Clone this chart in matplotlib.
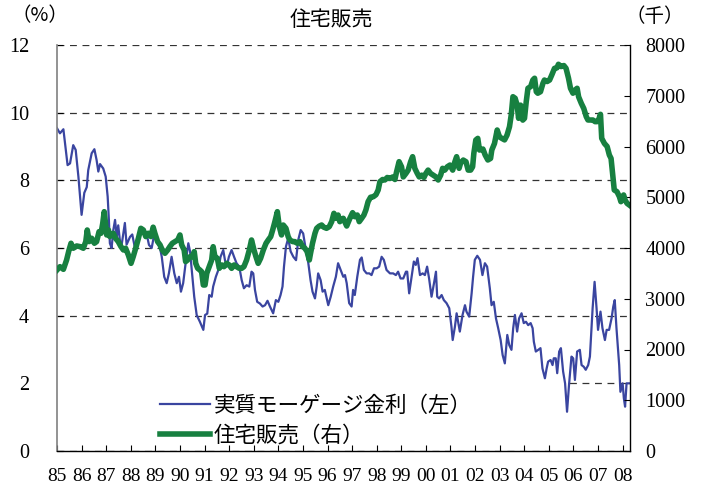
import matplotlib
matplotlib.use("Agg")
import matplotlib.pyplot as plt
from matplotlib.patches import Rectangle
import numpy as np

plt.rcParams['font.family'] = ['Liberation Serif', 'Noto Sans CJK JP']

rate_t = [1985.00, 1985.12, 1985.26, 1985.43, 1985.53, 1985.66, 1985.76, 1985.87, 1986.00, 1986.11,
          1986.21, 1986.27, 1986.41, 1986.52, 1986.61, 1986.68, 1986.75, 1986.88, 1986.98, 1987.06,
          1987.11, 1987.15, 1987.22, 1987.29, 1987.36, 1987.43, 1987.49, 1987.56, 1987.63, 1987.76,
          1987.83, 1987.97, 1988.06, 1988.17, 1988.30, 1988.41, 1988.55, 1988.65, 1988.74, 1988.85,
          1988.96, 1989.05, 1989.19, 1989.26, 1989.36, 1989.46, 1989.55, 1989.66, 1989.77, 1989.87,
          1989.96, 1990.04, 1990.13, 1990.23, 1990.34, 1990.41, 1990.48, 1990.58, 1990.68, 1990.81,
          1990.95, 1991.02, 1991.11, 1991.19, 1991.29, 1991.35, 1991.46, 1991.56, 1991.65, 1991.76,
          1991.83, 1991.90, 1991.99, 1992.10, 1992.20, 1992.30, 1992.41, 1992.51, 1992.60, 1992.71,
          1992.82, 1992.91, 1992.98, 1993.05, 1993.14, 1993.25, 1993.36, 1993.46, 1993.56, 1993.66,
          1993.79, 1993.90, 1994.00, 1994.09, 1994.17, 1994.23, 1994.31, 1994.40, 1994.50, 1994.61,
          1994.72, 1994.81, 1994.91, 1995.01, 1995.12, 1995.22, 1995.31, 1995.39, 1995.49, 1995.56,
          1995.62, 1995.72, 1995.80, 1995.89, 1996.03, 1996.13, 1996.23, 1996.34, 1996.43, 1996.64,
          1996.71, 1996.78, 1996.88, 1996.98, 1997.04, 1997.11, 1997.21, 1997.32, 1997.39, 1997.48,
          1997.59, 1997.70, 1997.79, 1997.89, 1998.00, 1998.10, 1998.20, 1998.29, 1998.40, 1998.54,
          1998.67, 1998.78, 1998.87, 1998.97, 1999.08, 1999.19, 1999.24, 1999.32, 1999.42, 1999.51,
          1999.59, 1999.66, 1999.76, 1999.87, 1999.96, 2000.05, 2000.13, 2000.23, 2000.33, 2000.41,
          2000.46, 2000.54, 2000.64, 2000.73, 2000.84, 2000.95, 2001.04, 2001.09, 2001.18, 2001.25,
          2001.31, 2001.38, 2001.49, 2001.59, 2001.65, 2001.76, 2001.86, 2001.92, 2001.99, 2002.09,
          2002.20, 2002.30, 2002.40, 2002.49, 2002.60, 2002.67, 2002.76, 2002.85, 2002.94, 2003.04,
          2003.12, 2003.21, 2003.31, 2003.39, 2003.48, 2003.55, 2003.62, 2003.71, 2003.79, 2003.89,
          2003.98, 2004.07, 2004.16, 2004.26, 2004.34, 2004.39, 2004.47, 2004.57, 2004.66, 2004.74,
          2004.84, 2004.91, 2004.97, 2005.07, 2005.15, 2005.20, 2005.28, 2005.34, 2005.42, 2005.49,
          2005.58, 2005.66, 2005.74, 2005.82, 2005.92, 2005.99, 2006.06, 2006.15, 2006.26, 2006.33,
          2006.42, 2006.50, 2006.60, 2006.67, 2006.78, 2006.86, 2006.94, 2007.00, 2007.10, 2007.18,
          2007.28, 2007.35, 2007.45, 2007.55, 2007.62, 2007.68, 2007.75, 2007.86, 2007.91, 2008.00,
          2008.05, 2008.10, 2008.16, 2008.26]
rate_v = [9.54, 9.39, 9.51, 8.45, 8.50, 9.04, 8.90, 8.11, 6.98, 7.63,
          7.80, 8.30, 8.80, 8.92, 8.60, 8.26, 8.48, 8.35, 8.11, 7.52,
          6.83, 6.14, 6.00, 6.53, 6.83, 6.33, 6.67, 6.20, 6.10, 6.74,
          6.10, 6.33, 6.40, 6.00, 6.33, 6.59, 6.53, 6.40, 6.09, 6.00,
          6.43, 6.20, 6.00, 5.74, 5.15, 4.96, 5.25, 5.74, 5.25, 4.96,
          5.15, 4.71, 4.96, 5.55, 6.14, 5.90, 5.35, 4.56, 4.02, 3.82,
          3.58, 4.02, 4.06, 4.61, 4.56, 4.86, 5.15, 5.35, 5.74, 5.94,
          5.64, 5.45, 5.74, 5.94, 5.74, 5.55, 5.45, 5.05, 4.81, 4.90,
          4.86, 5.30, 5.25, 4.76, 4.41, 4.36, 4.27, 4.31, 4.44, 4.27,
          4.07, 4.46, 4.41, 4.61, 4.86, 5.45, 6.04, 6.29, 5.90, 5.74,
          5.64, 6.24, 6.53, 6.43, 5.94, 5.55, 5.05, 4.71, 4.51, 4.86,
          5.25, 5.05, 4.71, 4.76, 4.31, 4.56, 4.86, 5.15, 5.55, 5.15,
          5.20, 4.96, 4.37, 4.27, 4.76, 4.61, 5.15, 5.65, 5.72, 5.35,
          5.25, 5.25, 5.20, 5.40, 5.40, 5.45, 5.74, 5.65, 5.35, 5.25,
          5.25, 5.20, 5.30, 5.10, 5.10, 5.30, 5.30, 4.66, 5.15, 5.60,
          5.50, 5.70, 5.20, 5.25, 5.20, 5.45, 5.10, 4.56, 4.96, 5.30,
          4.56, 4.51, 4.61, 4.46, 4.37, 4.22, 3.67, 3.28, 3.67, 4.07,
          3.82, 3.53, 4.02, 4.31, 4.12, 3.97, 4.66, 5.15, 5.65, 5.77,
          5.65, 5.20, 5.55, 5.45, 4.81, 4.31, 4.41, 3.92, 3.63, 3.28,
          2.84, 2.59, 3.43, 3.13, 2.99, 3.63, 4.02, 3.53, 3.92, 4.07,
          3.78, 3.82, 3.72, 3.78, 3.63, 3.23, 2.94, 2.99, 3.04, 2.44,
          2.15, 2.44, 2.64, 2.69, 2.54, 2.74, 2.74, 2.30, 2.94, 3.04,
          2.35, 2.00, 1.16, 1.95, 2.79, 2.74, 2.10, 2.94, 2.99, 2.54,
          2.49, 2.40, 2.54, 2.79, 4.22, 5.00, 4.22, 3.58, 4.12, 3.63,
          3.28, 3.58, 3.58, 3.92, 4.27, 4.46, 3.63, 2.54, 1.75, 2.00,
          1.56, 1.31, 2.00, 2.00]

# home sales (thousands), right axis
sales_t = [1985.00, 1985.12, 1985.26, 1985.39, 1985.49, 1985.57, 1985.66, 1985.80, 1985.93, 1986.07,
           1986.17, 1986.23, 1986.31, 1986.41, 1986.52, 1986.61, 1986.71, 1986.79, 1986.86, 1986.92,
           1986.98, 1987.02, 1987.09, 1987.15, 1987.29, 1987.38, 1987.49, 1987.60, 1987.70, 1987.79,
           1987.90, 1988.01, 1988.10, 1988.20, 1988.31, 1988.41, 1988.51, 1988.61, 1988.71, 1988.82,
           1988.91, 1988.98, 1989.09, 1989.19, 1989.28, 1989.39, 1989.50, 1989.59, 1989.69, 1989.80,
           1989.91, 1990.00, 1990.07, 1990.17, 1990.23, 1990.31, 1990.41, 1990.50, 1990.58, 1990.64,
           1990.72, 1990.81, 1990.88, 1990.95, 1991.02, 1991.09, 1991.19, 1991.29, 1991.35, 1991.42,
           1991.52, 1991.60, 1991.70, 1991.79, 1991.90, 1992.00, 1992.10, 1992.20, 1992.30, 1992.41,
           1992.51, 1992.60, 1992.71, 1992.82, 1992.91, 1993.01, 1993.09, 1993.18, 1993.28, 1993.39,
           1993.50, 1993.59, 1993.69, 1993.77, 1993.86, 1993.96, 1994.04, 1994.13, 1994.20, 1994.31,
           1994.40, 1994.47, 1994.58, 1994.67, 1994.77, 1994.88, 1994.99, 1995.08, 1995.17, 1995.26,
           1995.31, 1995.39, 1995.49, 1995.56, 1995.66, 1995.76, 1995.85, 1995.96, 1996.07, 1996.17,
           1996.26, 1996.34, 1996.43, 1996.50, 1996.64, 1996.78, 1996.91, 1997.02, 1997.11, 1997.21,
           1997.29, 1997.39, 1997.48, 1997.56, 1997.65, 1997.75, 1997.86, 1997.97, 1998.06, 1998.13,
           1998.24, 1998.33, 1998.43, 1998.54, 1998.65, 1998.74, 1998.81, 1998.91, 1999.01, 1999.08,
           1999.19, 1999.28, 1999.38, 1999.46, 1999.55, 1999.65, 1999.73, 1999.83, 1999.92, 2000.00,
           2000.09, 2000.19, 2000.30, 2000.41, 2000.50, 2000.60, 2000.68, 2000.77, 2000.87, 2000.98,
           2001.09, 2001.18, 2001.25, 2001.35, 2001.41, 2001.52, 2001.63, 2001.72, 2001.82, 2001.90,
           2001.95, 2002.03, 2002.11, 2002.18, 2002.32, 2002.41, 2002.52, 2002.63, 2002.68, 2002.79,
           2002.90, 2002.99, 2003.09, 2003.20, 2003.30, 2003.40, 2003.47, 2003.54, 2003.63, 2003.71,
           2003.77, 2003.85, 2003.94, 2004.01, 2004.08, 2004.15, 2004.26, 2004.35, 2004.42, 2004.49,
           2004.55, 2004.66, 2004.76, 2004.82, 2004.93, 2005.03, 2005.12, 2005.23, 2005.33, 2005.39,
           2005.50, 2005.61, 2005.70, 2005.80, 2005.88, 2005.98, 2006.07, 2006.15, 2006.21, 2006.32,
           2006.42, 2006.52, 2006.59, 2006.70, 2006.79, 2006.88, 2006.96, 2007.02, 2007.10, 2007.15,
           2007.26, 2007.37, 2007.46, 2007.53, 2007.60, 2007.66, 2007.77, 2007.87, 2007.93, 2008.04,
           2008.10, 2008.18, 2008.27]
sales_v = [3567, 3632, 3580, 3764, 3961, 4093, 3995, 4040, 4028, 3995,
           4126, 4355, 4126, 4192, 4093, 4126, 4322, 4290, 4487, 4716,
           4454, 4257, 4355, 4225, 4290, 4192, 4126, 4028, 3961, 3995,
           3863, 3698, 3830, 3995, 4192, 4388, 4355, 4225, 4290, 4225,
           4410, 4290, 4126, 4061, 3961, 3896, 3961, 4028, 4093, 4126,
           4159, 4257, 4061, 3961, 3732, 3764, 3830, 3830, 3928, 3698,
           3600, 3567, 3534, 3271, 3271, 3501, 3632, 3764, 4026, 3830,
           3797, 3600, 3666, 3632, 3698, 3666, 3600, 3666, 3632, 3600,
           3600, 3632, 3764, 3961, 4158, 3961, 3830, 3698, 3797, 3961,
           4093, 4158, 4224, 4355, 4519, 4716, 4420, 4257, 4453, 4388,
           4224, 4158, 4126, 4126, 4093, 4126, 4028, 3995, 3928, 3764,
           3896, 4093, 4290, 4388, 4430, 4453, 4410, 4388, 4420, 4519,
           4683, 4584, 4650, 4519, 4585, 4433, 4585, 4696, 4617, 4650,
           4519, 4585, 4650, 4749, 4913, 5000, 5010, 5050, 5143, 5306,
           5350, 5340, 5390, 5370, 5400, 5350, 5504, 5701, 5600, 5400,
           5470, 5535, 5700, 5799, 5570, 5470, 5400, 5435, 5390, 5470,
           5535, 5470, 5435, 5400, 5340, 5435, 5570, 5535, 5600, 5635,
           5535, 5700, 5799, 5570, 5670, 5733, 5700, 5535, 5535, 5600,
           5865, 6128, 6160, 5930, 5950, 5833, 5734, 5765, 5930, 6060,
           6325, 6190, 6160, 6130, 6225, 6390, 6620, 6981, 6950, 6815,
           6555, 6815, 6520, 6555, 6880, 7147, 7180, 7310, 7345, 7080,
           7050, 7080, 7245, 7310, 7280, 7310, 7410, 7540, 7550, 7620,
           7575, 7595, 7540, 7345, 7147, 7050, 7115, 7147, 6980, 6850,
           6750, 6590, 6522, 6522, 6522, 6490, 6490, 6522, 6634, 6161,
           6060, 6000, 5833, 5765, 5438, 5143, 5110, 5010, 4913, 5045,
           4945, 4880, 4847]

years = list(range(1985, 2009))
year_labels = ['%02d' % (y % 100) for y in years]
rate_ticks = [0, 2, 4, 6, 8, 10, 12]
sales_ticks = [0, 1000, 2000, 3000, 4000, 5000, 6000, 7000, 8000]

blue = '#3a45a0'
green = '#178040'

fig = plt.figure(figsize=(7.07, 4.91), dpi=100)
ax = fig.add_axes([57 / 707, 1 - 451 / 491, (630 - 57) / 707, (451 - 45) / 491])
ax2 = ax.twinx()

ax.set_xlim(1985, 2008.3)
ax.set_ylim(0, 12)
ax2.set_ylim(0, 8000)

ax.set_axisbelow(True)
ax.yaxis.grid(True, color='#333333', linestyle=(0, (5.5, 4.5)), linewidth=0.9)
# white area behind the legend hides the 2% gridline
ax.add_patch(Rectangle((0, 0.12), 0.89, 0.085, transform=ax.transAxes,
                       facecolor='white', edgecolor='none', zorder=1))

l1, = ax.plot(rate_t, rate_v, color=blue, lw=1.6, zorder=2, label='実質モーゲージ金利（左）')
l2, = ax2.plot(sales_t, sales_v, color=green, lw=4.0, zorder=2, label='住宅販売（右）')

ax.set_yticks(rate_ticks)
ax.set_yticklabels([str(v) for v in rate_ticks])
ax2.set_yticks(sales_ticks)
ax2.set_yticklabels([str(v) for v in sales_ticks])
ax.set_xticks(years)
ax.set_xticklabels(year_labels)

ax.tick_params(axis='y', direction='in', length=4.5, width=0.8, pad=20, labelsize=14.5)
ax.tick_params(axis='x', direction='in', length=4.5, width=0.8, pad=12, labelsize=14)
ax2.tick_params(axis='y', direction='in', length=4.5, width=0.8, pad=11, labelsize=14.5)

for s in ['top', 'right']:
    ax.spines[s].set_visible(False)
for s in ['top', 'left', 'bottom']:
    ax2.spines[s].set_visible(False)
ax.spines['left'].set_color('#808080')
ax.spines['left'].set_linewidth(1.2)
ax.spines['bottom'].set_linewidth(1.0)
ax2.spines['right'].set_linewidth(1.0)

ax2.legend(handles=[l1, l2], loc='lower left', bbox_to_anchor=(0.18, 0.012),
           frameon=False, fontsize=15.5, handlelength=2.3, handletextpad=0.2,
           labelspacing=0.4, borderpad=0, borderaxespad=0)

cjk = ['Noto Sans CJK JP', 'DejaVu Sans']
fig.text(331 / 707, 1 - 20 / 491, '住宅販売', ha='center', va='center', fontsize=15, family=cjk)
fig.text(40 / 707, 1 - 16 / 491, '（%）', ha='center', va='center', fontsize=14, family=cjk)
fig.text(655 / 707, 1 - 16 / 491, '（千）', ha='center', va='center', fontsize=14, family=cjk)

fig.savefig('out.png', dpi=100)
